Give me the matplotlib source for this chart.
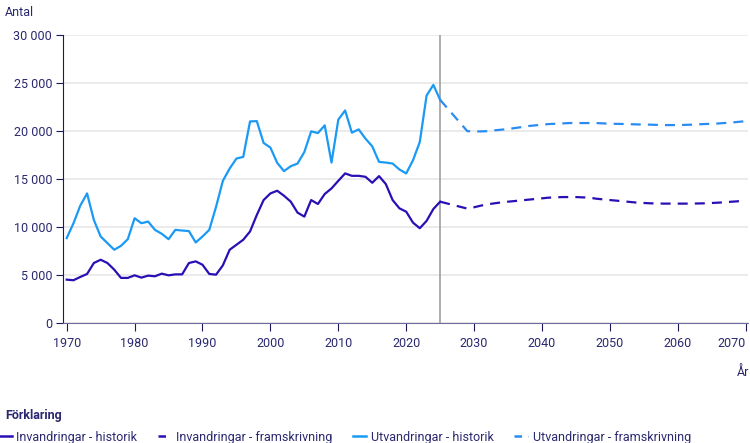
import matplotlib
matplotlib.use("Agg")
import matplotlib.pyplot as plt
from matplotlib.lines import Line2D
from matplotlib.ticker import FuncFormatter

plt.rcParams['font.family'] = ['Roboto', 'DejaVu Sans']

# historik 1970-2025
ar_hist = list(range(1970, 2026))
invandr_hist = [4550, 4490, 4830, 5140, 6280, 6620, 6280, 5590, 4730, 4730,
                5000, 4760, 4970, 4900, 5175, 5000, 5100, 5100, 6280, 6450,
                6100, 5140, 5070, 6040, 7660, 8180, 8700, 9560, 11280, 12830,
                13520, 13800, 13280, 12660, 11520, 11110, 12830, 12420, 13460, 14040,
                14830, 15600, 15350, 15350, 15250, 14630, 15320, 14490, 12830, 11970,
                11620, 10480, 9900, 10660, 11900, 12660]
utvandr_hist = [8870, 10420, 12250, 13520, 10760, 9040, 8350, 7660, 8070, 8760,
                10940, 10420, 10590, 9730, 9320, 8760, 9730, 9660, 9600, 8420,
                9040, 9730, 12140, 14830, 16110, 17150, 17320, 21010, 21040, 18770,
                18290, 16700, 15840, 16350, 16630, 17830, 19975, 19800, 20600, 16730,
                21190, 22150, 19840, 20180, 19220, 18420, 16800, 16730, 16630, 16010,
                15600, 16970, 18870, 23700, 24810, 23250]

# framskrivning
ar_fram = [2025, 2029, 2030, 2031, 2032, 2033, 2034, 2035, 2036, 2037, 2038,
           2039, 2040, 2041, 2042, 2043, 2044, 2045, 2046, 2047, 2048, 2050,
           2052, 2054, 2056, 2058, 2060, 2062, 2064, 2066, 2068, 2070]
invandr_fram = [12660, 11940, 12080, 12250, 12390, 12490, 12590, 12660, 12730, 12800, 12870,
                12940, 13010, 13080, 13110, 13140, 13140, 13140, 13110, 13080, 12970, 12830,
                12700, 12560, 12490, 12460, 12460, 12460, 12490, 12560, 12660, 12760]
utvandr_fram = [23250, 20000, 19970, 19970, 20000, 20080, 20150, 20220, 20320, 20420, 20530,
                20600, 20670, 20735, 20770, 20800, 20840, 20840, 20840, 20840, 20840, 20770,
                20740, 20700, 20670, 20630, 20630, 20670, 20740, 20800, 20900, 21040]

x_ticks = list(range(1970, 2071, 10))
y_ticks = list(range(0, 30001, 5000))

c_inv = '#2a0fb5'
c_utv = '#1a9af5'
c_utv_f = '#2a8cf2'
c_axis = '#1c1a5c'
c_text = '#2a2870'

fig = plt.figure(figsize=(7.5, 4.43), dpi=100)
ax = fig.add_axes([0.0844, 0.270, 0.9126, 0.651])

ax.plot(ar_hist, utvandr_hist, color=c_utv, lw=1.6)
ax.plot(ar_hist, invandr_hist, color=c_inv, lw=1.6)
ax.plot(ar_fram, utvandr_fram, color=c_utv_f, lw=1.6, dashes=(4.5, 3.2))
ax.plot(ar_fram, invandr_fram, color=c_inv, lw=1.6, dashes=(4.5, 3.2))
ax.axvline(2025, color='#a0a0a0', lw=1.2, zorder=1)

ax.set_xlim(1969.5, 2070.3)
ax.set_ylim(0, 30000)
ax.set_xticks(x_ticks)
ax.set_yticks(y_ticks)
ax.yaxis.set_major_formatter(FuncFormatter(lambda v, p: f"{int(v):,}".replace(',', ' ')))
ax.grid(axis='y', color='#e8e8e8', lw=1.2)
ax.set_axisbelow(True)
for s in ['top', 'right']:
    ax.spines[s].set_visible(False)
ax.spines['left'].set_color(c_axis)
ax.spines['bottom'].set_color('#6e6c9c')
ax.tick_params(axis='y', colors=c_axis, labelcolor=c_text, length=5, pad=3, labelsize=9)
ax.tick_params(axis='x', colors=c_axis, labelcolor=c_text, length=6, pad=4, labelsize=9)
# sista årtalet hålls innanför kanten
ax.get_xticklabels()[-1].set_horizontalalignment('right')

fig.text(5 / 750, 1 - 12 / 443, 'Antal', color=c_text, fontsize=9, va='center', ha='left')
fig.text(749 / 750, 1 - 372 / 443, 'År', color=c_text, fontsize=9, va='center', ha='right')
fig.text(5 / 750, 1 - 415 / 443, 'Förklaring', color=c_text, fontsize=9,
         fontweight='bold', va='center', ha='left')

handles = [
    Line2D([], [], color=c_inv, lw=1.8),
    Line2D([], [], color=c_inv, lw=1.8, dashes=(3, 2.5, 1, 2.5)),
    Line2D([], [], color=c_utv, lw=1.8),
    Line2D([], [], color=c_utv_f, lw=1.8, dashes=(3, 2.5, 1, 2.5)),
]
labels = ['Invandringar - historik', 'Invandringar - framskrivning',
          'Utvandringar - historik', 'Utvandringar - framskrivning']
leg = fig.legend(handles, labels, loc='center left', bbox_to_anchor=(-0.003, 1 - 437 / 443),
                 ncol=4, frameon=False, handlelength=1.1, handletextpad=0.4,
                 columnspacing=1.6, fontsize=9, borderpad=0, borderaxespad=0)
for t in leg.get_texts():
    t.set_color(c_text)

fig.savefig('out.png', dpi=100)
